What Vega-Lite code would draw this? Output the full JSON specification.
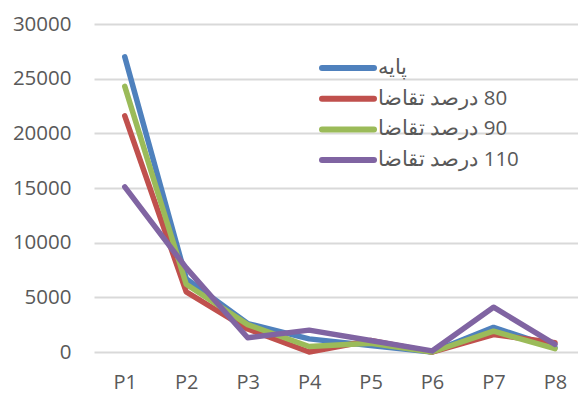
{
  "$schema": "https://vega.github.io/schema/vega-lite/v6.json",
  "width": 484,
  "height": 328,
  "autosize": "none",
  "padding": {"left": 94, "top": 24, "right": 0, "bottom": 42},
  "background": "white",
  "config": {
    "view": {"stroke": null},
    "font": "Open Sans"
  },
  "data": {
    "values": [
      {"p": "P1", "series": "پایه", "v": 27000},
      {"p": "P2", "series": "پایه", "v": 6700},
      {"p": "P3", "series": "پایه", "v": 2600},
      {"p": "P4", "series": "پایه", "v": 1200},
      {"p": "P5", "series": "پایه", "v": 600},
      {"p": "P6", "series": "پایه", "v": 0},
      {"p": "P7", "series": "پایه", "v": 2250},
      {"p": "P8", "series": "پایه", "v": 400},
      {"p": "P1", "series": "80 درصد تقاضا", "v": 21600},
      {"p": "P2", "series": "80 درصد تقاضا", "v": 5500},
      {"p": "P3", "series": "80 درصد تقاضا", "v": 2100},
      {"p": "P4", "series": "80 درصد تقاضا", "v": 0},
      {"p": "P5", "series": "80 درصد تقاضا", "v": 1050},
      {"p": "P6", "series": "80 درصد تقاضا", "v": 0},
      {"p": "P7", "series": "80 درصد تقاضا", "v": 1600},
      {"p": "P8", "series": "80 درصد تقاضا", "v": 850},
      {"p": "P1", "series": "90 درصد تقاضا", "v": 24300},
      {"p": "P2", "series": "90 درصد تقاضا", "v": 6200},
      {"p": "P3", "series": "90 درصد تقاضا", "v": 2500},
      {"p": "P4", "series": "90 درصد تقاضا", "v": 500},
      {"p": "P5", "series": "90 درصد تقاضا", "v": 800},
      {"p": "P6", "series": "90 درصد تقاضا", "v": 0},
      {"p": "P7", "series": "90 درصد تقاضا", "v": 1900},
      {"p": "P8", "series": "90 درصد تقاضا", "v": 300},
      {"p": "P1", "series": "110 درصد تقاضا", "v": 15100},
      {"p": "P2", "series": "110 درصد تقاضا", "v": 7700},
      {"p": "P3", "series": "110 درصد تقاضا", "v": 1300},
      {"p": "P4", "series": "110 درصد تقاضا", "v": 2000},
      {"p": "P5", "series": "110 درصد تقاضا", "v": 1050},
      {"p": "P6", "series": "110 درصد تقاضا", "v": 100},
      {"p": "P7", "series": "110 درصد تقاضا", "v": 4100},
      {"p": "P8", "series": "110 درصد تقاضا", "v": 700}
    ]
  },
  "mark": {"type": "line", "strokeWidth": 5.5, "strokeCap": "round", "strokeJoin": "round"},
  "encoding": {
    "x": {
      "field": "p",
      "type": "ordinal",
      "sort": null,
      "scale": {"type": "point", "padding": 0.4375, "align": 0.572},
      "axis": {
        "title": null,
        "labelAngle": 0,
        "domain": false,
        "ticks": false,
        "tickSize": 0,
        "labelPadding": 20,
        "labelFontSize": 20,
        "labelColor": "#595959",
        "grid": false
      }
    },
    "y": {
      "field": "v",
      "type": "quantitative",
      "scale": {"domain": [0, 30000], "nice": false},
      "axis": {
        "title": null,
        "values": [0, 5000, 10000, 15000, 20000, 25000, 30000],
        "format": "d",
        "domain": false,
        "ticks": false,
        "tickSize": 0,
        "labelPadding": 23,
        "labelFontSize": 20.5,
        "labelColor": "#595959",
        "grid": true,
        "gridColor": "#D9D9D9",
        "gridWidth": 2
      }
    },
    "color": {
      "field": "series",
      "type": "nominal",
      "sort": null,
      "scale": {
        "domain": ["پایه", "80 درصد تقاضا", "90 درصد تقاضا", "110 درصد تقاضا"],
        "range": ["#4F81BD", "#C0504D", "#9BBB59", "#8064A2"]
      },
      "legend": {
        "title": null,
        "orient": "none",
        "legendX": 225,
        "legendY": 29,
        "padding": 0,
        "symbolType": "stroke",
        "symbolSize": 2704,
        "symbolStrokeWidth": 6,
        "clipHeight": 30,
        "rowPadding": 0.7,
        "labelOffset": 1,
        "labelFontSize": 20.5,
        "labelColor": "#595959",
        "labelLimit": 300,
        "labelExpr": "'\u2067' + datum.label + '\u2069'",
        "encode": {"symbols": {"update": {"strokeCap": {"value": "round"}}}}
      }
    }
  }
}
